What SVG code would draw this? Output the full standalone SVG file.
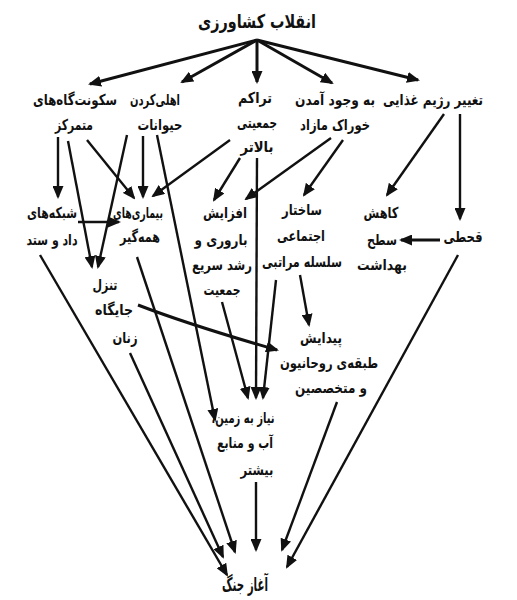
<svg xmlns="http://www.w3.org/2000/svg" width="517" height="600" viewBox="0 0 517 600">
<style>
text{font-family:"DejaVu Sans",sans-serif;font-weight:bold;font-size:15px;fill:#111;text-anchor:middle;direction:rtl}
.title{font-size:19px}
.e{stroke:#111;stroke-width:2.4;fill:none;marker-end:url(#ah)}
.t{stroke-width:3}
</style>
<defs>
<marker id="ah" markerUnits="userSpaceOnUse" markerWidth="13" markerHeight="11" refX="11" refY="5.5" orient="auto">
<path d="M0,0 L13,5.5 L0,11 z" fill="#111"/>
</marker>
</defs>
<rect width="517" height="600" fill="#fff"/>
<g id="connectors">
<path class="e t" d="M257,40 L90,84"/>
<path class="e t" d="M257,40 L182,82"/>
<path class="e t" d="M257,40 L257,82"/>
<path class="e t" d="M257,40 L332,83"/>
<path class="e t" d="M257,40 L418,80"/>
<path class="e" d="M58,137 L58,197"/>
<path class="e" d="M68,141 L92,267"/>
<path class="e" d="M87,140 L134,198"/>
<path class="e" d="M127,135 L98,267"/>
<path class="e" d="M143,136 L143,197"/>
<path class="e" d="M157,135 L215,420"/>
<path class="e" d="M230,140 L153,196"/>
<path class="e" d="M240,158 L214,200"/>
<path class="e" d="M257,158 L256,398"/>
<path class="e" d="M331,138 L246,199"/>
<path class="e" d="M343,140 L304,195"/>
<path class="e" d="M444,114 L387,195"/>
<path class="e" d="M460,114 L460,219"/>
<path class="e t" d="M440,240 L401,240"/>
<path class="e" d="M78,222 L119,222"/>
<path class="e" d="M300,275 L309,325"/>
<path class="e" d="M276,280 L263,398"/>
<path class="e" d="M222,302 L248,398"/>
<path class="e t" d="M138,305 Q190,325 277,350"/>
<path class="e" d="M40,255 L227,575"/>
<path class="e" d="M130,353 L223,557"/>
<path class="e" d="M137,257 L235,552"/>
<path class="e" d="M256,482 L256,550"/>
<path class="e" d="M337,402 L282,550"/>
<path class="e" d="M458,255 L287,567"/>
</g>
<g id="n-enghelab"><text class="title" x="257" y="28" textLength="118" lengthAdjust="spacingAndGlyphs">انقلاب کشاورزی</text></g>
<g id="n-sokunatgah"><text x="75" y="105" textLength="84" lengthAdjust="spacingAndGlyphs">سکونت‌گاه‌های</text><text x="74" y="130" textLength="38" lengthAdjust="spacingAndGlyphs">متمرکز</text></g>
<g id="n-ahli"><text x="155" y="105" textLength="50" lengthAdjust="spacingAndGlyphs">اهلی‌کردن</text><text x="160" y="130" textLength="45" lengthAdjust="spacingAndGlyphs">حیوانات</text></g>
<g id="n-tarakom"><text x="255" y="103" textLength="34" lengthAdjust="spacingAndGlyphs">تراکم</text><text x="257" y="128" textLength="40" lengthAdjust="spacingAndGlyphs">جمعیتی</text><text x="257" y="152" textLength="33" lengthAdjust="spacingAndGlyphs">بالاتر</text></g>
<g id="n-khorak"><text x="335" y="105" textLength="80" lengthAdjust="spacingAndGlyphs">به وجود آمدن</text><text x="335" y="130" textLength="70" lengthAdjust="spacingAndGlyphs">خوراک مازاد</text></g>
<g id="n-rezhim"><text x="433" y="105" textLength="100" lengthAdjust="spacingAndGlyphs">تغییر رژیم غذایی</text></g>
<g id="n-shabake"><text x="52" y="218" textLength="50" lengthAdjust="spacingAndGlyphs">شبکه‌های</text><text x="52" y="245" textLength="51" lengthAdjust="spacingAndGlyphs">داد و ستد</text></g>
<g id="n-bimari"><text x="138" y="218" textLength="50" lengthAdjust="spacingAndGlyphs">بیماری‌های</text><text x="140" y="242" textLength="40" lengthAdjust="spacingAndGlyphs">همه‌گیر</text></g>
<g id="n-afzayesh"><text x="225" y="218" textLength="44" lengthAdjust="spacingAndGlyphs">افزایش</text><text x="221" y="245" textLength="53" lengthAdjust="spacingAndGlyphs">باروری و</text><text x="222" y="270" textLength="60" lengthAdjust="spacingAndGlyphs">رشد سریع</text><text x="222" y="295" textLength="37" lengthAdjust="spacingAndGlyphs">جمعیت</text></g>
<g id="n-sakhtar"><text x="302" y="215" textLength="40" lengthAdjust="spacingAndGlyphs">ساختار</text><text x="301" y="241" textLength="48" lengthAdjust="spacingAndGlyphs">اجتماعی</text><text x="302" y="267" textLength="80" lengthAdjust="spacingAndGlyphs">سلسله مراتبی</text></g>
<g id="n-kahesh"><text x="381" y="218" textLength="35" lengthAdjust="spacingAndGlyphs">کاهش</text><text x="382" y="245" textLength="30" lengthAdjust="spacingAndGlyphs">سطح</text><text x="382" y="270" textLength="50" lengthAdjust="spacingAndGlyphs">بهداشت</text></g>
<g id="n-ghahti"><text x="463" y="242" textLength="39" lengthAdjust="spacingAndGlyphs">قحطی</text></g>
<g id="n-tanazzol"><text x="105" y="290" textLength="25" lengthAdjust="spacingAndGlyphs">تنزل</text><text x="114" y="315" textLength="38" lengthAdjust="spacingAndGlyphs">جایگاه</text><text x="125" y="343" textLength="25" lengthAdjust="spacingAndGlyphs">زنان</text></g>
<g id="n-peydayesh"><text x="321" y="343" textLength="42" lengthAdjust="spacingAndGlyphs">پیدایش</text><text x="329" y="368" textLength="98" lengthAdjust="spacingAndGlyphs">طبقه‌ی روحانیون</text><text x="331" y="393" textLength="72" lengthAdjust="spacingAndGlyphs">و متخصصین</text></g>
<g id="n-niaz"><text x="243" y="423" textLength="63" lengthAdjust="spacingAndGlyphs">نیاز به زمین،</text><text x="245" y="448" textLength="56" lengthAdjust="spacingAndGlyphs">آب و منابع</text><text x="257" y="475" textLength="33" lengthAdjust="spacingAndGlyphs">بیشتر</text></g>
<g id="n-jang"><text class="title" x="245" y="591" textLength="46" lengthAdjust="spacingAndGlyphs">آغاز جنگ</text></g>
</svg>
